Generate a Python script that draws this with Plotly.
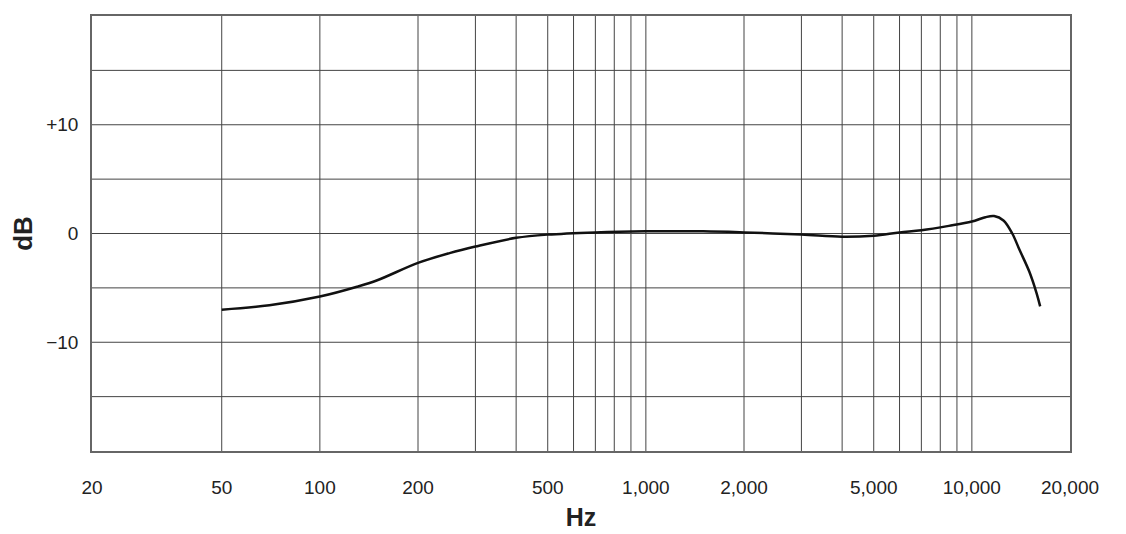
import plotly.graph_objects as go

# frequency response
freq = [50, 70, 100, 130, 150, 200, 250, 300, 400, 500, 700, 1000, 1500, 2000, 3000,
        4000, 5000, 6000, 7000, 8500, 10000, 11000, 11700, 12500, 13300, 14000,
        15000, 15800, 16200]
db = [-7.0, -6.6, -5.8, -4.9, -4.3, -2.7, -1.8, -1.2, -0.4, -0.1, 0.1, 0.2, 0.2, 0.1, -0.1,
      -0.3, -0.2, 0.1, 0.3, 0.7, 1.1, 1.5, 1.6, 1.2, 0.0, -1.5,
      -3.5, -5.5, -6.7]

grid_x = [50, 100, 200, 300, 400, 500, 600, 700, 800, 900,
          1000, 2000, 3000, 4000, 5000, 6000, 7000, 8000, 9000, 10000]
grid_y = [-15, -10, -5, 0, 5, 10, 15]
tick_x = [20, 50, 100, 200, 500, 1000, 2000, 5000, 10000, 20000]
tick_x_text = ['20', '50', '100', '200', '500', '1,000', '2,000', '5,000', '10,000', '20,000']
tick_y = [10, 0, -10]
tick_y_text = ['+10', '0', '\u221210']

FONT = 'Liberation Sans, Arial, sans-serif'

fig = go.Figure()
fig.add_trace(go.Scatter(x=freq, y=db, mode='lines', line=dict(color='#111', width=2.5, shape='spline'),
                         hoverinfo='skip'))

shapes = []
for gx in grid_x:
    shapes.append(dict(type='line', xref='x', yref='paper', x0=gx, x1=gx, y0=0, y1=1,
                       line=dict(color='#444', width=1), layer='below'))
for gy in grid_y:
    shapes.append(dict(type='line', xref='paper', yref='y', x0=0, x1=1, y0=gy, y1=gy,
                       line=dict(color='#444', width=1), layer='below'))

fig.update_layout(
    width=1126, height=534, showlegend=False,
    plot_bgcolor='white', paper_bgcolor='white',
    margin=dict(l=84, r=64, t=6, b=91),
    font=dict(family=FONT, size=19, color='#222'),
    shapes=shapes,
)
fig.update_xaxes(type='log', range=[1.30103, 4.30103], tickvals=tick_x, ticktext=tick_x_text,
                 showgrid=False, showline=True, mirror=True, linecolor='#666', linewidth=1.5,
                 ticks='', ticklabelstandoff=18,
                 title=dict(text='<b>Hz</b>', font=dict(size=25), standoff=12))
fig.update_yaxes(range=[-20, 20], tickvals=tick_y, ticktext=tick_y_text, showgrid=False,
                 zeroline=False, showline=True, mirror=True, linecolor='#666', linewidth=1.5,
                 ticks='', ticklabelstandoff=8,
                 title=dict(text='<b>dB</b>', font=dict(size=26), standoff=14))

fig.write_html("out.html")
